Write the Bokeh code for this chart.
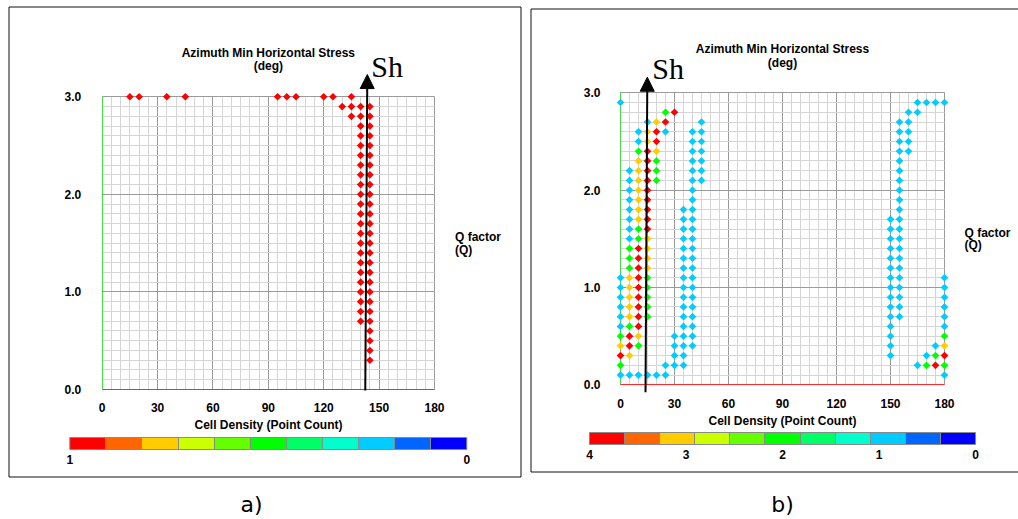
import math
from bokeh.plotting import figure
from bokeh.models import (Range1d, SingleIntervalTicker, FixedTicker, LinearColorMapper,
                          ColorBar, Label, Arrow, NormalHead, BoxAnnotation, Grid,
                          PrintfTickFormatter, ColumnDataSource)
from bokeh.layouts import row
from bokeh.transform import transform
from bokeh.embed import file_html
from bokeh.resources import INLINE

# ---------------- data ----------------
az_tick_interval = 30          # Azimuth Min Horizontal Stress (deg)
q_tick_interval = 1.0          # Q factor (Q)

# palette from high cell density (left of colour bar) to low density
density_palette = ["#FF0000", "#FF6600", "#FFCC00", "#CCFF00", "#66FF00", "#00FF00",
                   "#00FF66", "#00FFCC", "#00CCFF", "#0066FF", "#0000FF"]

# panel a) : every occupied cell has point count 1
left_q_rows = [3.0, 2.9, 2.8, 2.7, 2.6, 2.5, 2.4, 2.3, 2.2, 2.1, 2.0, 1.9, 1.8, 1.7,
               1.6, 1.5, 1.4, 1.3, 1.2, 1.1, 1.0, 0.9, 0.8, 0.7, 0.6, 0.5, 0.4, 0.3]
left_az_rows = [
    [15, 20, 35, 45, 95, 100, 105, 120, 125, 135],
    [130, 135, 140, 145],
    [135, 140, 145],
    [140, 145], [140, 145], [140, 145], [140, 145], [140, 145], [140, 145], [140, 145],
    [140, 145], [140, 145], [140, 145], [140, 145], [140, 145], [140, 145], [140, 145],
    [140, 145], [140, 145], [140, 145], [140, 145], [140, 145], [140, 145], [140, 145],
    [145], [145], [145], [145],
]
left_cell_count = 1
left_cbar_labels = ["1", "0"]

# panel b)
right_q_rows = [2.9, 2.8, 2.7, 2.6, 2.5, 2.4, 2.3, 2.2, 2.1, 2.0, 1.9, 1.8, 1.7, 1.6, 1.5,
                1.4, 1.3, 1.2, 1.1, 1.0, 0.9, 0.8, 0.7, 0.6, 0.5, 0.4, 0.3, 0.2, 0.1]
right_az_rows = [
    [0, 165, 170, 175, 180],
    [25, 30, 160, 165],
    [15, 20, 25, 45, 155, 160],
    [10, 15, 20, 25, 40, 45, 155, 160],
    [10, 15, 20, 40, 45, 155, 160],
    [10, 15, 20, 40, 45, 155, 160],
    [10, 15, 20, 40, 45, 155],
    [5, 10, 15, 20, 40, 45, 155],
    [5, 10, 15, 20, 40, 45, 155],
    [5, 10, 15, 40, 155],
    [5, 10, 15, 40, 155],
    [5, 10, 15, 35, 40, 155],
    [5, 10, 15, 35, 40, 150, 155],
    [5, 10, 15, 35, 40, 150, 155],
    [5, 10, 15, 35, 40, 150, 155],
    [5, 10, 15, 35, 40, 150, 155],
    [5, 10, 15, 35, 40, 150, 155],
    [5, 10, 15, 35, 40, 150, 155],
    [0, 5, 10, 15, 35, 40, 150, 155, 180],
    [0, 5, 10, 15, 35, 40, 150, 155, 180],
    [0, 5, 10, 15, 35, 40, 150, 155, 180],
    [0, 5, 10, 15, 35, 40, 150, 155, 180],
    [0, 5, 10, 15, 35, 40, 150, 155, 180],
    [0, 5, 10, 35, 40, 150, 180],
    [0, 5, 10, 30, 35, 40, 150, 180],
    [0, 5, 10, 30, 35, 40, 150, 175, 180],
    [0, 5, 30, 35, 150, 170, 175, 180],
    [0, 25, 30, 35, 165, 170, 175, 180],
    [0, 5, 10, 15, 20, 25, 180],
]
right_count_rows = [
    [1, 1, 1, 1, 1],
    [2, 4, 1, 1],
    [1, 3, 4, 1, 1, 1],
    [1, 3, 4, 1, 1, 1, 1, 1],
    [1, 3, 4, 1, 1, 1, 1],
    [2, 4, 3, 1, 1, 1, 1],
    [3, 4, 2, 1, 1, 1],
    [1, 3, 4, 2, 1, 1, 1],
    [1, 3, 4, 2, 1, 1, 1],
    [1, 3, 4, 1, 1],
    [1, 3, 4, 1, 1],
    [1, 3, 4, 1, 1, 1],
    [1, 3, 4, 1, 1, 1, 1],
    [1, 2, 4, 1, 1, 1, 1],
    [1, 2, 3, 1, 1, 1, 1],
    [2, 4, 3, 1, 1, 1, 1],
    [2, 4, 3, 1, 1, 1, 1],
    [2, 4, 3, 1, 1, 1, 1],
    [1, 3, 4, 2, 1, 1, 1, 1, 1],
    [1, 3, 4, 2, 1, 1, 1, 1, 1],
    [1, 3, 4, 2, 1, 1, 1, 1, 1],
    [1, 3, 4, 2, 1, 1, 1, 1, 1],
    [1, 3, 4, 2, 1, 1, 1, 1, 1],
    [1, 2, 4, 1, 1, 1, 1],
    [2, 4, 3, 1, 1, 1, 1, 2],
    [3, 4, 2, 1, 1, 1, 1, 1, 3],
    [4, 3, 1, 1, 1, 1, 2, 4],
    [2, 1, 1, 1, 1, 2, 4, 2],
    [1, 1, 1, 1, 1, 1, 1],
]
right_cbar_labels = ["4", "3", "2", "1", "0"]

# Sh arrows (azimuth and Q at base and at tip)
left_sh = dict(x0=142.5, y0=-0.01, x1=143.6, y1=3.228)
right_sh = dict(x0=13.9, y0=-0.076, x1=14.9, y1=3.16)

# ---------------- layout (pixel geometry of each panel's canvas) ----------------
H = 518
FONT = "Liberation Sans"

geo_left = dict(width=526, x0=101.7, x180=434.0, y3=96.3, y0=389.0,
                ystand=21, xstand=13, xlabstand=3,
                cb_left=69.3, cb_len=397, cb_loc_y=52,
                box=(8.5, 520.5, 6.5, 476.5), tag_xy=(251, 504),
                q_xy=(454.5, 236.5, 249.0), title_y=(52.8, 65.3), sh_xy=(370.7, 66.0))
geo_right = dict(width=492, x0=94.0, x180=418.0, y3=92.3, y0=384.3,
                 ystand=20, xstand=14, xlabstand=3,
                 cb_left=63.0, cb_len=386, cb_loc_y=57,
                 box=(4.5, 520.0, 8.5, 471.5), tag_xy=(256, 504),
                 q_xy=(438.0, 232.5, 244.5), title_y=(48.8, 62.0), sh_xy=(125.7, 67.8))


def make_panel(g, q_rows, az_rows, count_rows, cmax, cbar_labels, sh, tag):
    W = g["width"]
    sx = (g["x180"] - g["x0"]) / 180.0
    sy = (g["y0"] - g["y3"]) / 3.0

    def dx(px):
        return (px - g["x0"]) / sx

    def dy(py):
        return (g["y0"] - py) / sy

    p = figure(width=W, height=H, output_backend="svg", toolbar_location=None,
               x_range=Range1d(dx(0), dx(W)), y_range=Range1d(dy(H), dy(0)),
               min_border=0, min_border_left=0, min_border_right=0,
               min_border_top=0, min_border_bottom=0,
               background_fill_color="white", border_fill_color="white",
               outline_line_color=None)
    p.title.visible = False

    p.xaxis.ticker = SingleIntervalTicker(interval=az_tick_interval, num_minor_ticks=6)
    p.yaxis.ticker = SingleIntervalTicker(interval=q_tick_interval, num_minor_ticks=10)
    p.yaxis.formatter = PrintfTickFormatter(format="%.1f")
    p.xaxis.bounds = (0, 180)
    p.yaxis.bounds = (0, 3)
    p.xaxis.fixed_location = 0
    p.yaxis.fixed_location = 0
    for ax in (p.xaxis[0], p.yaxis[0]):
        ax.axis_line_color = None
        ax.major_tick_line_color = None
        ax.minor_tick_line_color = None
        ax.major_tick_in = 0
        ax.major_tick_out = 0
        ax.minor_tick_in = 0
        ax.minor_tick_out = 0
        ax.major_label_text_font = FONT
        ax.major_label_text_font_size = "12px"
        ax.major_label_text_font_style = "bold"
        ax.major_label_text_color = "black"
    p.yaxis.major_label_standoff = g["ystand"]
    p.xaxis.major_label_standoff = g["xstand"]
    p.xaxis.axis_label = "Cell Density (Point Count)"
    p.xaxis.axis_label_standoff = g["xlabstand"]
    p.xaxis.axis_label_text_font = FONT
    p.xaxis.axis_label_text_font_size = "12px"
    p.xaxis.axis_label_text_font_style = "bold"
    p.xaxis.axis_label_text_color = "black"

    has_cb = "cross_bounds" in Grid.properties()
    for gr in (p.xgrid[0], p.ygrid[0]):
        gr.grid_line_color = "#9a9a9a"
        gr.grid_line_width = 1
        gr.minor_grid_line_color = "#d5d5d5"
        gr.minor_grid_line_width = 1
    p.xgrid[0].bounds = (0, 180)
    p.ygrid[0].bounds = (0, 3)
    if has_cb:
        p.xgrid[0].cross_bounds = (0, 3)
        p.ygrid[0].cross_bounds = (0, 180)

    g_left = Grid(dimension=0, ticker=FixedTicker(ticks=[0]), grid_line_color="#44dd44",
                  grid_line_width=1, bounds=(0, 180))
    g_bottom = Grid(dimension=1, ticker=FixedTicker(ticks=[0]), grid_line_color="#ff2a2a",
                    grid_line_width=1, bounds=(0, 3))
    if has_cb:
        g_left.cross_bounds = (0, 3)
        g_bottom.cross_bounds = (0, 180)
    p.add_layout(g_left)
    p.add_layout(g_bottom)

    # cells
    az, q, cnt = [], [], []
    for qq, azr, cr in zip(q_rows, az_rows, count_rows):
        for a, c in zip(azr, cr):
            az.append(a)
            q.append(qq)
            cnt.append(c)
    src = ColumnDataSource(dict(az=az, q=q, count=cnt))
    mapper = LinearColorMapper(palette=list(reversed(density_palette)), low=0, high=cmax)
    p.scatter("az", "q", source=src, marker="square", size=5.4, angle=math.pi / 4,
              fill_color=transform("count", mapper), line_color=None)

    # colour bar (high density on the left)
    cb_mapper = LinearColorMapper(palette=density_palette, low=0, high=cmax)
    n = len(cbar_labels)
    cb_pos = [cmax * i / (n - 1) for i in range(n)]
    cb = ColorBar(color_mapper=cb_mapper, orientation="horizontal",
                  width=g["cb_len"], height=12, padding=0,
                  location=(g["cb_left"], g["cb_loc_y"]),
                  ticker=FixedTicker(ticks=cb_pos,
                                     minor_ticks=[cmax * k / 11 for k in range(1, 11)]),
                  major_label_overrides={pos: lab for pos, lab in zip(cb_pos, cbar_labels)},
                  major_tick_line_color=None, major_tick_in=0, major_tick_out=0,
                  minor_tick_line_color="#8a8a8a", minor_tick_in=12, minor_tick_out=0,
                  bar_line_color="#8a8a8a", background_fill_color=None,
                  border_line_color=None, label_standoff=5,
                  major_label_text_font=FONT, major_label_text_font_size="12px",
                  major_label_text_font_style="bold", major_label_text_color="black")
    p.add_layout(cb)

    # titles
    ty1, ty2 = g["title_y"]
    for txt, cy in (("Azimuth Min Horizontal Stress", ty1), ("(deg)", ty2)):
        p.add_layout(Label(x=90, y=dy(cy), text=txt, text_align="center",
                           text_baseline="middle", text_font=FONT, text_font_size="12px",
                           text_font_style="bold", text_color="black"))
    qx, qy1, qy2 = g["q_xy"]
    for txt, cy in (("Q factor", qy1), ("(Q)", qy2)):
        p.add_layout(Label(x=dx(qx), y=dy(cy), text=txt, text_align="left",
                           text_baseline="middle", text_font=FONT, text_font_size="12px",
                           text_font_style="bold", text_color="black"))

    # Sh arrow
    p.add_layout(Arrow(x_start=sh["x0"], y_start=sh["y0"], x_end=sh["x1"], y_end=sh["y1"],
                       line_color="black", line_width=2,
                       end=NormalHead(size=14, fill_color="black", line_color="black")))
    shx, shy = g["sh_xy"]
    p.add_layout(Label(x=dx(shx), y=dy(shy), text="Sh", text_align="left",
                       text_baseline="middle", text_font="Liberation Serif",
                       text_font_size="30px", text_color="black"))

    # panel frame and tag
    bx0, bx1, by0, by1 = g["box"]
    p.add_layout(BoxAnnotation(left=dx(bx0), right=dx(bx1), top=dy(by0), bottom=dy(by1),
                               fill_alpha=0, fill_color=None, line_color="#111111",
                               line_alpha=1.0, line_width=1))
    tx, tyy = g["tag_xy"]
    p.add_layout(Label(x=dx(tx), y=dy(tyy), text=tag, text_align="center",
                       text_baseline="middle", text_font="DejaVu Sans",
                       text_font_size="22px", text_color="black"))
    return p


left_count_rows = [[left_cell_count] * len(r) for r in left_az_rows]
p1 = make_panel(geo_left, left_q_rows, left_az_rows, left_count_rows, 1,
                left_cbar_labels, left_sh, "a)")
p2 = make_panel(geo_right, right_q_rows, right_az_rows, right_count_rows, 4,
                right_cbar_labels, right_sh, "b)")

layout = row(p1, p2)
open("out.html", "w").write(file_html(layout, INLINE))
